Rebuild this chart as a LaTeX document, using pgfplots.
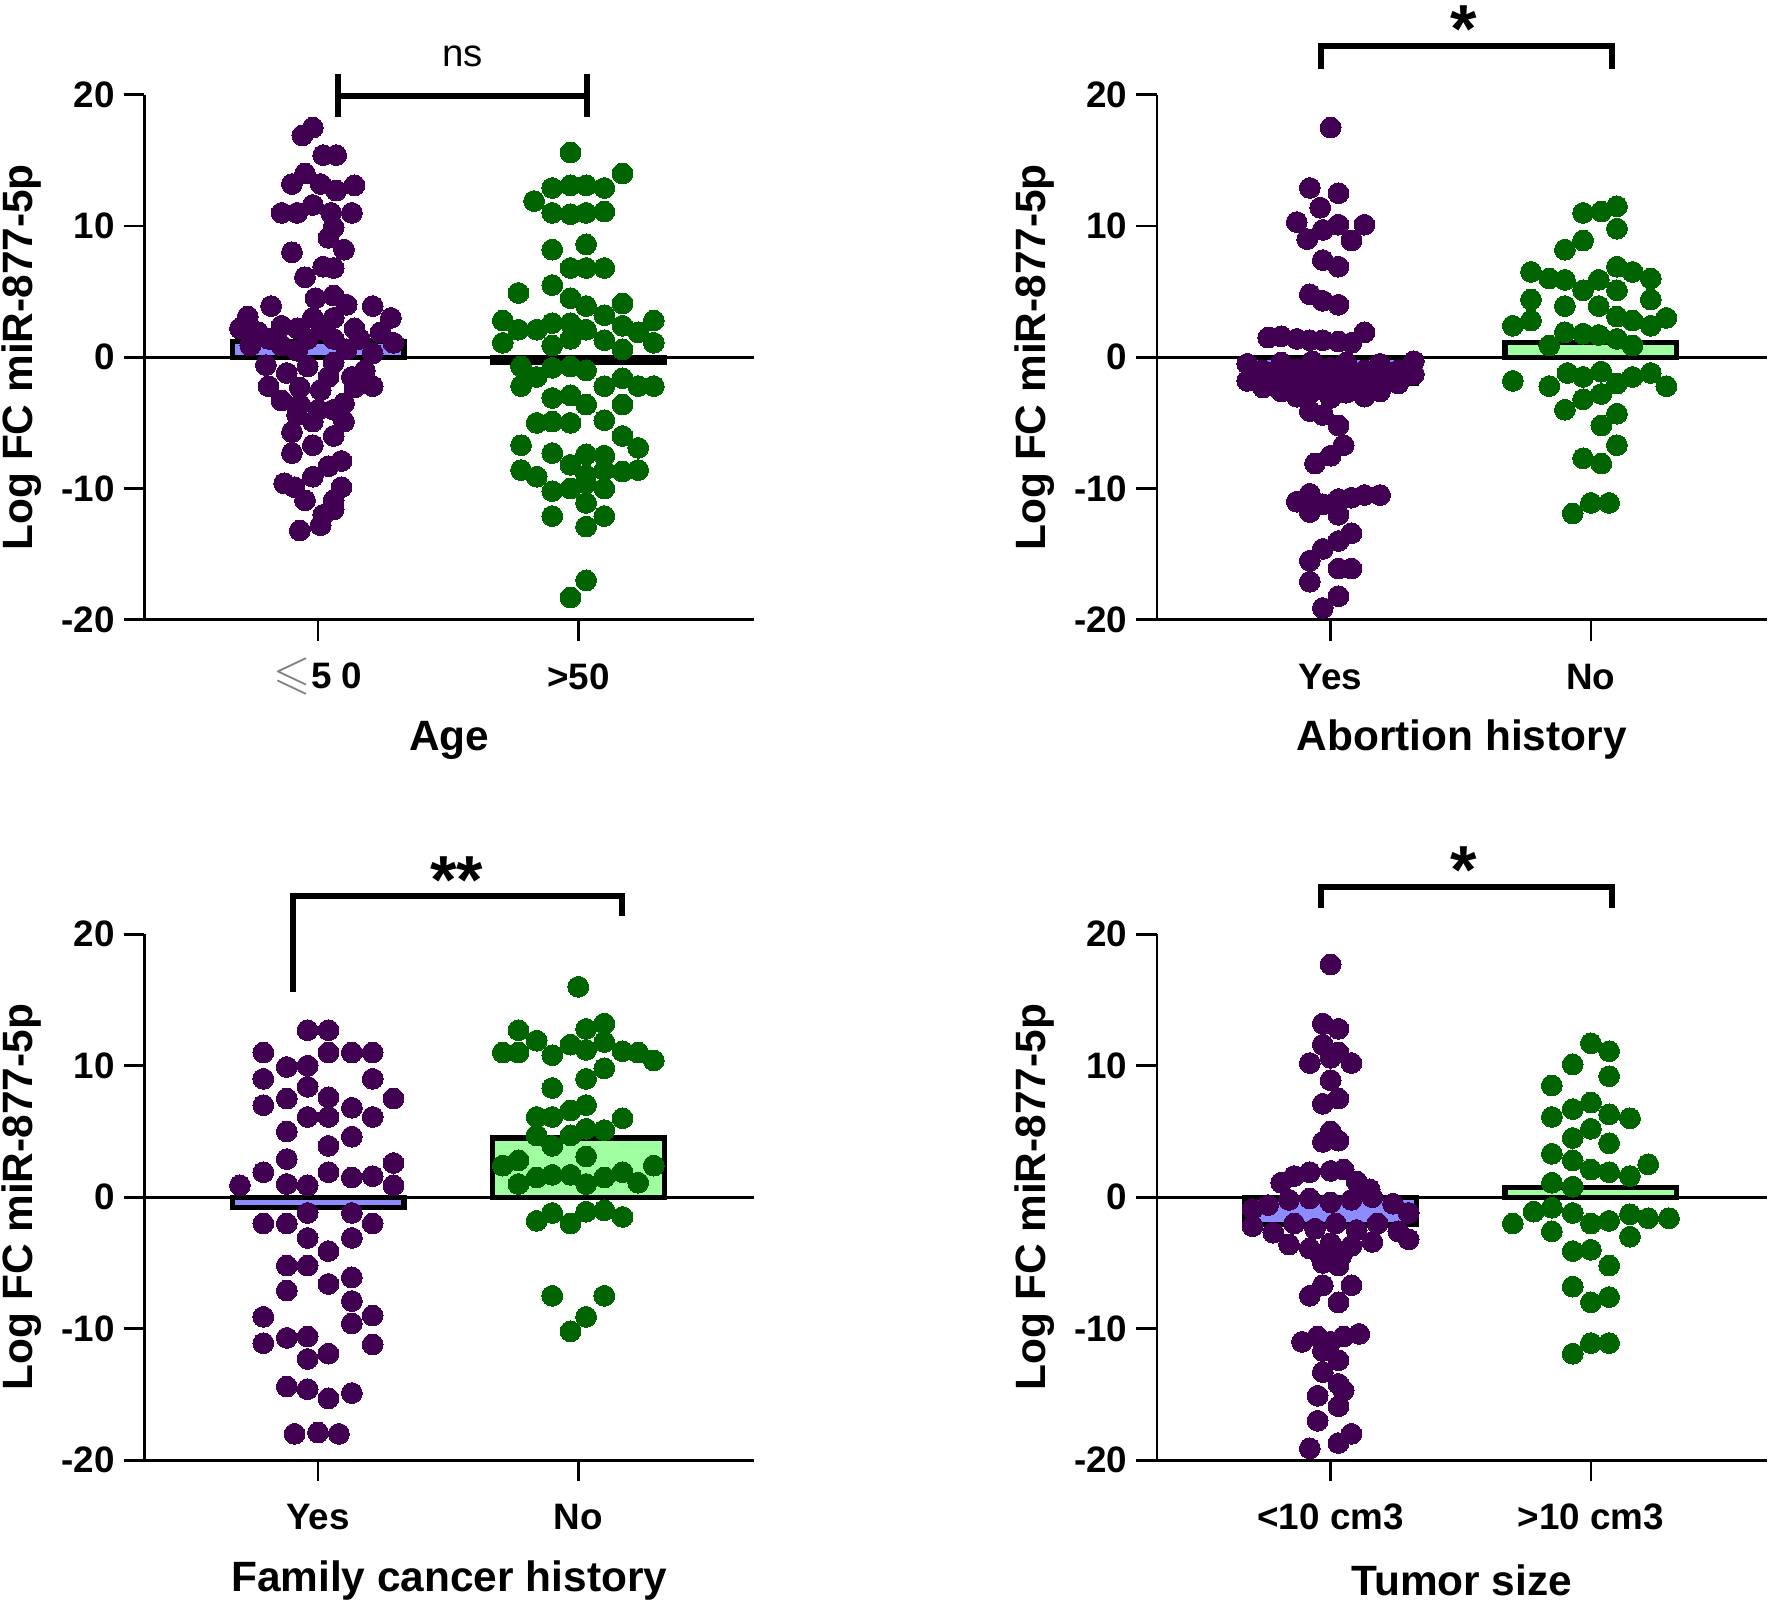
\documentclass[border=0pt]{standalone}
\usepackage{fontspec}
\setmainfont{Liberation Sans}
\usepackage{amssymb}
\usepackage{pgfplots}
\pgfplotsset{compat=1.18}
\definecolor{purp}{RGB}{66,0,82}
\definecolor{grn}{RGB}{0,100,0}
\definecolor{lav}{RGB}{140,140,255}
\definecolor{lgrn}{RGB}{160,255,160}
\newcommand{\tickfont}{\fontsize{9.2}{11}\selectfont\bfseries}
\newcommand{\labfont}{\fontsize{10.6}{12}\selectfont\bfseries}
\pgfplotsset{
  panel/.style={
    scale only axis, width=152.4pt,
    xmin=-0.667, xmax=1.675, ymin=-20, ymax=20,
    axis x line*=bottom, axis y line*=left,
    axis line style={line width=0.7pt, black},
    every tick/.style={black, line width=0.7pt},
    tick align=outside, major tick length=5.2pt,
    xtick={0,1}, ytick={-20,-10,0,10,20}, yticklabels={-20,-10,0,10,20},
    tick label style={font=\tickfont},
    yticklabel style={anchor=east, inner sep=0pt, xshift=-2pt},
    xticklabel style={anchor=center, inner sep=0pt, yshift=-9pt},
    xlabel style={at={(axis description cs:0.5,-0.229)}, anchor=center, font=\labfont},
    ylabel style={at={(axis description cs:-0.201,0.5)}, anchor=center, font=\labfont},
    ylabel={Log FC miR-877-5p},
    clip=false,
  },
  dotsP/.style={only marks, mark=*, mark size=2.6pt, color=purp, mark options={draw=purp, fill=purp, line width=0pt}},
  dotsG/.style={only marks, mark=*, mark size=2.6pt, color=grn, mark options={draw=grn, fill=grn, line width=0pt}},
  barP/.style={ybar, bar width=0.66, bar shift=0pt, fill=lav, draw=black, line width=1.3pt},
  barG/.style={ybar, bar width=0.66, bar shift=0pt, fill=lgrn, draw=black, line width=1.3pt},
}
\begin{document}
\begin{tikzpicture}
\useasboundingbox (0,0) rectangle (442.5pt,400.75pt);

% ---------------- Panel 1: Age
\begin{axis}[panel, at={(36.1pt,245.8pt)}, anchor=south west, height=131.25pt,
  xticklabels={{{\color{gray}\large$\leqslant$}5 0},{>50}}, xlabel={Age}]
\addplot[barP] coordinates {(0,1.2)};
\addplot[barG] coordinates {(1,-0.4)};
\draw[line width=0.7pt] (axis cs:-0.667,0) -- (axis cs:1.675,0);
\addplot[dotsP] coordinates {
(-0.06,16.9)(-0.02,17.5)(0.02,15.4)(0.07,15.4)
(-0.05,14.0)(-0.10,13.2)(0.01,13.2)(0.07,12.7)(0.14,13.1)
(-0.14,11.0)(-0.08,11.0)(-0.02,11.6)(0.05,11.0)(0.13,11.0)
(0.06,9.9)(0.04,9.1)(-0.10,8.0)(0.10,8.2)
(0.02,6.9)(-0.05,6.1)(0.06,6.8)
(-0.01,4.5)(0.06,4.7)(0.11,4.0)(-0.18,3.9)(0.21,3.9)
(-0.27,3.1)(-0.30,2.2)(-0.23,1.9)(-0.14,2.4)(-0.08,2.2)(-0.02,3.0)(0.06,3.0)(0.14,2.2)(0.24,1.9)(0.28,3.0)(0.29,1.1)(-0.26,0.9)(-0.14,0.9)(-0.04,1.4)(0.06,1.4)(0.16,1.4)(0.21,0.3)(-0.19,1.4)(0.02,2.1)(-0.08,0.5)(0.11,0.6)
(-0.19,-2.2)(0.21,-2.2)(-0.12,-1.2)(-0.04,-0.7)(0.04,-1.5)(0.13,-1.5)(0.06,-0.4)(-0.07,-2.3)(0.01,-2.5)(0.14,-2.3)(-0.14,-3.3)(-0.07,-3.6)(0.10,-3.5)(0.00,-4.0)(0.06,-4.0)(0.18,-1.0)(-0.20,-0.6)
(-0.08,-4.4)(-0.02,-4.9)(0.10,-4.9)(-0.10,-5.7)(0.06,-6.0)
(-0.10,-7.3)(-0.02,-6.7)(0.09,-7.9)(0.04,-8.3)
(-0.09,-9.9)(-0.02,-9.1)(0.09,-9.9)(-0.05,-10.9)(0.06,-10.9)(-0.13,-9.6)
(0.02,-12.0)(-0.07,-13.2)(0.01,-12.8)(0.06,-11.6)
};
\addplot[dotsG] coordinates {
(0.97,15.6)(1.17,14.0)(0.90,12.9)(0.97,13.1)(1.03,13.1)(1.10,12.9)(0.83,11.9)(0.90,11.0)(0.97,10.9)(1.03,11.0)(1.10,11.1)
(0.90,8.2)(1.03,8.6)(0.97,6.8)(1.03,6.8)(1.10,6.8)(0.77,4.9)(0.90,5.5)(0.97,4.5)(1.03,3.9)(1.17,4.1)(1.10,3.2)
(0.71,2.8)(1.29,2.8)(0.77,2.1)(0.84,2.1)(0.90,2.6)(0.97,2.6)(1.03,2.1)(1.17,2.4)(1.23,1.9)(0.71,1.1)(1.29,1.1)(0.90,0.9)(0.97,1.4)(1.10,1.3)(1.17,0.6)
(0.78,-0.7)(0.90,-0.8)(0.97,-0.7)(1.03,-1.0)(0.84,-1.5)(0.78,-2.2)(1.10,-2.2)(1.17,-1.6)(1.23,-2.2)(1.29,-2.2)
(0.90,-3.1)(0.97,-2.9)(1.03,-3.6)(1.17,-3.6)(0.84,-5.0)(0.90,-4.9)(0.97,-5.0)(1.10,-4.8)(1.17,-6.0)
(0.78,-6.7)(0.90,-7.3)(1.03,-7.4)(1.10,-7.5)(1.23,-6.9)(0.78,-8.6)(0.84,-9.1)(0.97,-8.2)(1.03,-9.0)(1.10,-8.6)(1.17,-8.7)(1.23,-8.6)
(0.90,-10.2)(0.97,-10.0)(1.03,-9.6)(1.10,-10.0)(1.03,-11.1)(1.10,-12.1)(0.90,-12.1)(1.03,-12.9)(1.03,-17.0)(0.97,-18.3)
};
\draw[line width=1.5pt] (axis cs:0.078,21.6) -- (axis cs:0.078,18.3);
\draw[line width=1.5pt] (axis cs:1.035,21.6) -- (axis cs:1.035,18.3);
\draw[line width=1.5pt] (axis cs:0.078,19.9) -- (axis cs:1.035,19.9);
\node[font=\fontsize{9.6}{11}\selectfont, inner sep=0pt] at (axis cs:0.556,22.9) {ns};
\end{axis}

% ---------------- Panel 2: Abortion history
\begin{axis}[panel, at={(289.25pt,245.8pt)}, anchor=south west, height=131.25pt,
  xticklabels={Yes,No}, xlabel={Abortion history}]
\addplot[barP] coordinates {(0,-2.0)};
\addplot[barG] coordinates {(1,1.1)};
\draw[line width=0.7pt] (axis cs:-0.667,0) -- (axis cs:1.675,0);
\addplot[dotsP] coordinates {
(0,17.5)(-0.08,12.9)(0.03,12.5)(-0.04,11.4)(-0.13,10.3)(0.13,10.1)(0.03,10.1)(-0.09,9.0)(-0.03,9.7)(0.08,8.9)(-0.03,7.4)(0.03,6.9)(-0.08,4.8)(-0.03,4.3)(0.03,4.0)(0.13,1.9)
(-0.24,1.5)(-0.19,1.6)(-0.13,1.4)(-0.08,1.3)(-0.03,1.3)(0.03,1.2)(0.08,1.1)
(-0.32,-0.5)(-0.32,-1.8)(-0.26,-1.0)(-0.26,-2.3)(-0.19,-0.4)(-0.19,-1.6)(-0.19,-2.6)(-0.13,-0.9)(-0.13,-2.1)(-0.13,-3.0)(-0.07,-0.3)(-0.07,-1.5)(-0.07,-2.6)(0,-0.8)(0,-2.0)(0,-3.1)(0.06,-0.4)(0.06,-1.6)(0.06,-2.7)(0.13,-1.0)(0.13,-2.2)(0.13,-3.0)(0.19,-0.5)(0.19,-1.7)(0.19,-2.6)(0.26,-1.0)(0.26,-2.0)(0.32,-1.3)(0.32,-0.3)
(-0.08,-4.1)(-0.03,-4.4)(0.03,-5.2)(0.05,-6.7)(0,-7.5)(-0.06,-8.1)
(-0.13,-11.0)(-0.08,-10.4)(-0.03,-11.2)(0.03,-10.8)(0.08,-10.7)(0.13,-10.5)(0.19,-10.5)(-0.08,-11.8)(0.03,-12.0)
(0.08,-13.4)(0.03,-14.0)(-0.03,-14.6)(-0.08,-15.5)(0.03,-16.1)(0.08,-16.1)(-0.08,-17.1)(0.03,-18.2)(-0.03,-19.1)
};
\addplot[dotsG] coordinates {
(1.10,11.5)(1.04,11.1)(0.97,11.0)(1.10,9.8)(0.97,8.9)(0.90,8.2)(0.77,6.5)(0.84,6.0)(0.90,5.9)(1.10,6.9)(1.16,6.5)(1.23,6.0)(1.03,5.9)(0.97,5.1)(1.10,5.1)
(0.77,4.4)(1.23,4.4)(0.90,3.9)(1.03,3.9)(0.70,2.4)(0.77,2.8)(1.10,3.1)(1.16,2.8)(1.23,2.4)(1.29,3.0)(0.90,1.9)(0.97,1.8)(1.03,1.7)(1.10,1.4)(0.84,0.9)(1.16,0.9)
(0.70,-1.8)(0.84,-2.2)(0.91,-1.2)(0.97,-1.5)(1.04,-1.1)(1.10,-2.0)(1.16,-1.5)(1.23,-1.2)(1.29,-2.2)(0.97,-3.2)(1.04,-2.8)(0.90,-4.0)(1.10,-4.3)(1.04,-5.2)
(1.10,-6.7)(0.97,-7.7)(1.04,-8.1)(0.93,-11.9)(1.00,-11.1)(1.07,-11.1)
};
\draw[line width=1.5pt] (axis cs:-0.036,22.0) |- (axis cs:1.08,23.7) -- (axis cs:1.08,22.0);
\node[font=\fontsize{17}{20}\selectfont\bfseries, anchor=base, inner sep=0pt] at (axis cs:0.51,23.2) {*};
\end{axis}

% ---------------- Panel 3: Family cancer history
\begin{axis}[panel, at={(36.1pt,35.7pt)}, anchor=south west, height=131.5pt,
  xticklabels={Yes,No}, xlabel={Family cancer history}]
\addplot[barP] coordinates {(0,-0.8)};
\addplot[barG] coordinates {(1,4.5)};
\draw[line width=0.7pt] (axis cs:-0.667,0) -- (axis cs:1.675,0);
\addplot[dotsP] coordinates {
(-0.04,12.7)(0.04,12.7)(-0.21,11.0)(0.04,11.0)(0.13,11.0)(0.21,11.0)(-0.12,9.9)(-0.04,10.0)(-0.21,9.0)(0.21,9.0)
(-0.04,8.4)(-0.12,7.5)(0.04,7.6)(0.29,7.5)(-0.21,7.0)(-0.04,6.1)(0.04,6.1)(0.13,6.8)(0.21,6.1)
(-0.12,5.0)(0.13,4.6)(0.04,3.9)(-0.12,2.9)(0.29,2.6)(-0.21,1.9)(0.04,1.9)(0.13,1.5)(0.21,1.6)
(-0.30,0.9)(-0.12,1.0)(-0.04,0.9)(0.29,0.9)(-0.04,-1.2)(0.13,-1.2)(-0.21,-2.0)(-0.12,-2.0)(0.21,-2.0)
(-0.04,-3.1)(0.13,-3.1)(0.04,-4.1)(-0.12,-5.2)(-0.04,-5.2)(0.13,-6.1)(0.04,-6.6)(-0.12,-7.1)(0.13,-7.9)
(-0.21,-9.1)(0.21,-9.0)(0.13,-9.6)(-0.21,-11.1)(-0.12,-10.7)(-0.04,-10.6)(0.21,-11.2)(0.04,-11.9)(-0.04,-12.3)
(-0.12,-14.4)(-0.04,-14.6)(0.04,-15.3)(0.13,-14.9)(-0.09,-18.0)(0.00,-17.9)(0.08,-18.0)
};
\addplot[dotsG] coordinates {
(1.00,16.0)(0.77,12.7)(1.03,12.8)(1.10,13.2)(0.84,11.9)(0.97,11.6)(1.10,11.8)
(0.71,11.0)(0.77,11.0)(0.90,10.8)(1.03,11.2)(1.17,11.1)(1.23,11.0)(1.29,10.4)(1.10,9.8)(1.03,9.0)(0.90,8.3)
(1.03,7.0)(0.97,6.6)(0.84,6.1)(0.90,6.1)(1.17,6.0)(1.03,5.2)(1.10,5.1)(0.84,4.7)(0.90,3.9)(0.97,4.7)
(1.03,3.1)(0.71,2.4)(0.77,2.8)(1.29,2.4)(0.84,1.5)(0.90,1.7)(0.97,1.7)(1.10,1.5)(1.17,1.9)(0.77,1.0)(1.03,1.0)(1.23,1.1)
(0.84,-1.8)(0.90,-1.2)(0.97,-2.0)(1.03,-1.1)(1.10,-1.0)(1.17,-1.5)
(0.90,-7.5)(1.10,-7.5)(1.03,-9.1)(0.97,-10.2)
};
\draw[line width=1.5pt] (axis cs:-0.095,15.6) |- (axis cs:1.169,22.9) -- (axis cs:1.169,21.35);
\node[font=\fontsize{17}{20}\selectfont\bfseries, anchor=base, inner sep=0pt] at (axis cs:0.534,22.3) {**};
\end{axis}

% ---------------- Panel 4: Tumor size
\begin{axis}[panel, at={(289.25pt,35.7pt)}, anchor=south west, height=131.5pt,
  xticklabels={{<10 cm3},{>10 cm3}}, xlabel={Tumor size}]
\addplot[barP] coordinates {(0,-2.1)};
\addplot[barG] coordinates {(1,0.75)};
\draw[line width=0.7pt] (axis cs:-0.667,0) -- (axis cs:1.675,0);
\addplot[dotsP] coordinates {
(0,17.7)(-0.03,13.2)(0.03,12.8)(-0.03,11.6)(0.03,11.0)(-0.08,10.2)(0,10.6)(0.08,10.2)(0,8.9)(0.03,7.5)(-0.03,7.1)(0,5.0)(-0.03,4.2)(0.03,4.3)
(-0.19,1.1)(-0.14,1.6)(-0.08,1.9)(0,2.0)(0.05,2.1)(0.10,1.2)(0.15,0.6)
(-0.30,-0.9)(-0.24,-0.6)(-0.16,-0.2)(-0.08,-0.1)(0.0,-0.4)(0.08,-0.2)(0.16,0.0)(0.24,-0.5)(0.30,-1.2)
(-0.30,-2.2)(-0.22,-2.7)(-0.14,-2.0)(-0.06,-2.4)(0.02,-2.0)(0.10,-2.5)(0.18,-2.0)(0.26,-2.6)(0.30,-3.2)
(-0.16,-3.6)(-0.08,-3.9)(0.0,-3.5)(0.08,-3.7)(0.16,-3.4)(-0.04,-4.4)(0.04,-4.5)
(-0.03,-5.0)(0.03,-5.2)(-0.03,-6.7)(0.08,-6.7)(-0.08,-7.5)(0.03,-8.0)
(-0.11,-11.0)(-0.05,-10.6)(0,-11.0)(0.05,-10.6)(0.11,-10.4)(-0.03,-11.7)(0.03,-12.4)(-0.03,-13.3)(0.03,-14.2)(0.05,-14.7)(-0.05,-15.1)(0.03,-15.9)(-0.05,-17.0)(0.08,-18.0)(0.03,-18.7)(-0.08,-19.1)
};
\addplot[dotsG] coordinates {
(1.00,11.7)(1.07,11.1)(0.93,10.1)(1.07,9.2)(0.85,8.5)(0.93,6.7)(1.00,7.2)(0.85,6.1)(1.07,6.3)(1.15,6.0)(1.00,5.2)(0.93,4.5)(1.07,4.1)
(0.85,3.3)(0.93,2.8)(1.22,2.5)(1.00,2.1)(1.07,1.9)(1.15,1.6)(0.85,1.1)(0.93,0.8)
(0.78,-1.1)(0.85,-0.8)(0.93,-1.2)(0.70,-2.0)(1.00,-2.0)(1.07,-1.8)(1.15,-1.3)(1.22,-1.6)(1.30,-1.6)(0.85,-2.6)(1.15,-3.0)
(0.93,-4.1)(1.00,-4.0)(1.07,-5.2)(0.93,-6.8)(1.00,-8.0)(1.07,-7.6)(0.93,-11.9)(1.00,-11.1)(1.07,-11.1)
};
\draw[line width=1.5pt] (axis cs:-0.036,22.0) |- (axis cs:1.08,23.6) -- (axis cs:1.08,22.0);
\node[font=\fontsize{17}{20}\selectfont\bfseries, anchor=base, inner sep=0pt] at (axis cs:0.51,23.1) {*};
\end{axis}
\end{tikzpicture}
\end{document}
